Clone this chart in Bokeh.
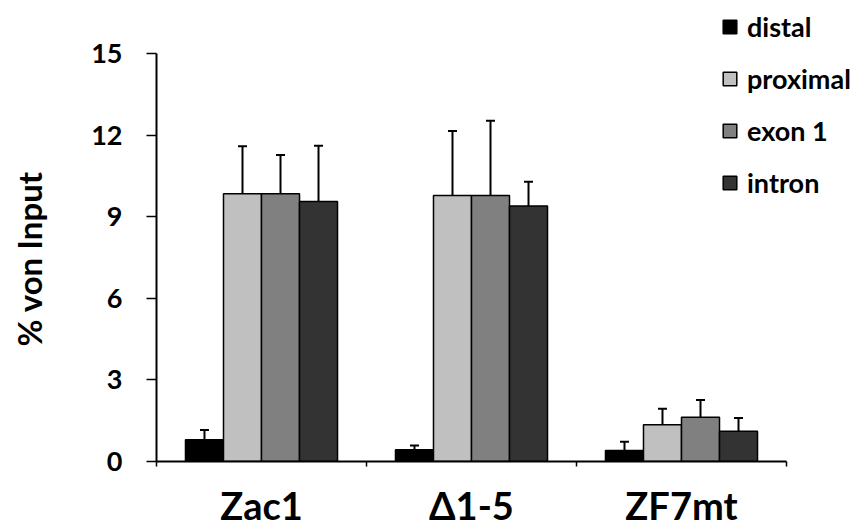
import numpy as np
from bokeh.plotting import figure
from bokeh.models import (ColumnDataSource, Whisker, TeeHead, FixedTicker, Title,
                          LinearAxis)
from bokeh.embed import file_html
from bokeh.resources import INLINE

categories = ["Zac1", "\u03941-5", "ZF7mt"]
series = ["distal", "proximal", "exon 1", "intron"]
colors = ["#000000", "#c0c0c0", "#808080", "#333333"]

distal = [0.80, 0.43, 0.40]
distal_err = [0.36, 0.16, 0.33]
proximal = [9.84, 9.78, 1.35]
proximal_err = [1.75, 2.37, 0.59]
exon1 = [9.84, 9.78, 1.63]
exon1_err = [1.43, 2.75, 0.63]
intron = [9.56, 9.39, 1.11]
intron_err = [2.05, 0.89, 0.49]

y_ticks = [0, 3, 6, 9, 12, 15]

values = [distal, proximal, exon1, intron]
errors = [distal_err, proximal_err, exon1_err, intron_err]

FONT = "Lato"
bar_w = 0.181

p = figure(width=858, height=530, x_range=(0, 3.3286), y_range=(0, 16.8),
           output_backend="svg", toolbar_location=None,
           min_border_left=156, min_border_right=3,
           min_border_top=4, min_border_bottom=69)
p.outline_line_color = None
p.xgrid.visible = False
p.ygrid.visible = False

centers = np.arange(len(categories)) + 0.5
for i, (name, col, vals, errs) in enumerate(zip(series, colors, values, errors)):
    xs = centers + (i - 1.5) * bar_w
    v = np.array(vals)
    src = ColumnDataSource(dict(x=xs, top=v, upper=v + np.array(errs)))
    p.vbar(x="x", top="top", width=bar_w, bottom=0, source=src,
           fill_color=col, line_color="#000000", line_width=1.5,
           legend_label=name)
    w = Whisker(source=src, base="x", lower="top", upper="upper",
                dimension="height", line_color="#000000", line_width=2,
                upper_head=TeeHead(size=9, line_width=2, line_color="#000000"),
                lower_head=None)
    p.add_layout(w)

# x axis
xa = p.xaxis[0]
xa.bounds = (0, 3)
xa.ticker = FixedTicker(ticks=list(centers), minor_ticks=[0, 1, 2, 3])
xa.major_label_overrides = {float(c): lab for c, lab in zip(centers, categories)}
xa.major_tick_line_color = None
xa.minor_tick_out = 5
xa.minor_tick_in = 0
xa.minor_tick_line_width = 1.5
xa.axis_line_width = 2
xa.major_label_text_font = FONT
xa.major_label_text_font_style = "bold"
xa.major_label_text_font_size = "38px"
xa.major_label_text_color = "#000000"
xa.major_label_standoff = 14

# y axis
ya = p.yaxis[0]
ya.ticker = FixedTicker(ticks=y_ticks, minor_ticks=[])
ya.bounds = (0, 15)
ya.major_tick_out = 10
ya.major_tick_in = 0
ya.major_tick_line_width = 1.5
ya.axis_line_width = 2
ya.major_label_text_font = FONT
ya.major_label_text_font_style = "bold"
ya.major_label_text_font_size = "27px"
ya.major_label_text_color = "#000000"
ya.major_label_standoff = 24

# empty spacer between the tick labels and the axis title
spacer = LinearAxis(ticker=FixedTicker(ticks=[0], minor_ticks=[]),
                    major_label_overrides={0: ""},
                    axis_line_color=None, major_tick_line_color=None,
                    minor_tick_line_color=None, major_tick_out=34,
                    major_tick_in=0, major_label_standoff=0,
                    major_label_text_font_size="1px")
p.add_layout(spacer, "left")

ylab = Title(text="% von Input", align="left", offset=115,
             vertical_align="middle", text_font=FONT, text_font_style="bold",
             text_font_size="33px", text_color="#000000")
p.add_layout(ylab, "left")

lg = p.legend[0]
lg.location = (565, 262)
lg.border_line_color = None
lg.background_fill_alpha = 0
lg.padding = 0
lg.margin = 0
lg.glyph_width = 17
lg.glyph_height = 17
lg.label_height = 17
lg.label_standoff = 9
lg.spacing = 19
lg.label_text_font = FONT
lg.label_text_font_style = "bold"
lg.label_text_font_size = "27px"
lg.label_text_color = "#000000"

open("out.html", "w").write(file_html(p, INLINE))
